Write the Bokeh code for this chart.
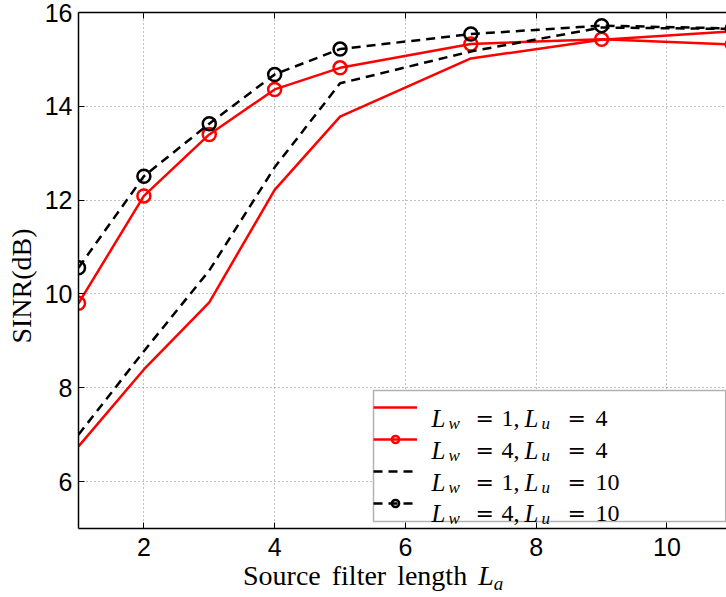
from bokeh.plotting import figure
from bokeh.layouts import row, column
from bokeh.models import (Range1d, LinearAxis, FixedTicker, Legend, LegendItem, Label,
                          BoxAnnotation, Div)
from bokeh.embed import file_html
from bokeh.resources import INLINE

# ---- data ----
x_len = [1, 2, 3, 4, 5, 7, 9, 11]
sinr_w1_u4 = [6.75, 8.39, 9.82, 12.22, 13.78, 15.02, 15.42, 15.60]
sinr_w4_u4 = [9.80, 12.09, 13.40, 14.36, 14.82, 15.33, 15.43, 15.32]
sinr_w1_u10 = [7.00, 8.78, 10.50, 12.70, 14.49, 15.17, 15.68, 15.65]
sinr_w4_u10 = [10.56, 12.51, 13.63, 14.68, 15.22, 15.54, 15.72, 15.66]
x_ticks = [2, 4, 6, 8, 10]
y_ticks = [6, 8, 10, 12, 14, 16]
legend_vals = [("1", "4"), ("4", "4"), ("1", "10"), ("4", "10")]

X0, X1 = 1, 10.91
Y0, Y1 = 5, 16
W, H = 726, 597
YDIV_W = 40                 # strip on the left holding the y-axis title
FL, FT, FB = 78, 12, 528    # frame left, top, bottom (page pixels)
PH = 565                    # figure height; the x-axis title sits below it

p = figure(width=W - YDIV_W, height=PH, x_range=Range1d(X0, X1),
           y_range=Range1d(Y0, Y1), output_backend="svg", toolbar_location=None,
           min_border_left=FL - YDIV_W, min_border_right=0, min_border_top=FT,
           min_border_bottom=PH - FB, x_axis_location=None, y_axis_location=None,
           margin=0)
p.outline_line_color = None
p.background_fill_color = "white"
p.border_fill_color = "white"

def style_axis(ax):
    ax.axis_line_color = "black"
    ax.axis_line_width = 1.5
    ax.major_tick_in = 6
    ax.major_tick_out = 0
    ax.major_tick_line_color = "black"
    ax.minor_tick_line_color = None
    ax.major_label_text_font = "Liberation Sans"
    ax.major_label_text_font_size = "25px"
    ax.major_label_text_color = "black"

xa = LinearAxis(ticker=FixedTicker(ticks=x_ticks))
style_axis(xa)
xa.major_label_standoff = 9
p.add_layout(xa, "below")
ya = LinearAxis(ticker=FixedTicker(ticks=y_ticks))
style_axis(ya)
ya.major_label_standoff = 6
p.add_layout(ya, "left")
ta = LinearAxis(ticker=FixedTicker(ticks=x_ticks))
style_axis(ta)
ta.major_label_overrides = {t: "" for t in x_ticks}
ta.major_label_text_font_size = "1px"
ta.major_label_standoff = 0
p.add_layout(ta, "above")

p.xgrid.ticker = FixedTicker(ticks=x_ticks)
p.ygrid.ticker = FixedTicker(ticks=y_ticks)
for g in (p.xgrid, p.ygrid):
    g.grid_line_color = "#808080"
    g.grid_line_dash = "1 3"
    g.grid_line_width = 1

RED = "#ff0000"
r1 = p.line(x_len, sinr_w1_u4, line_color=RED, line_width=2.5)
r2 = p.line(x_len, sinr_w4_u4, line_color=RED, line_width=2.5)
r2m = p.scatter(x_len, sinr_w4_u4, marker="circle", size=13, line_color=RED,
                line_width=2.5, fill_color=None)
r3 = p.line(x_len, sinr_w1_u10, line_color="black", line_width=2.5, line_dash="9 6")
r4 = p.line(x_len, sinr_w4_u10, line_color="black", line_width=2.5, line_dash="9 6")
r4m = p.scatter(x_len, sinr_w4_u10, marker="circle", size=13, line_color="black",
                line_width=2.5, fill_color=None)

def dx(px):
    return X0 + (px - FL) * (X1 - X0) / (W - FL)

def dy(py):
    return Y1 - (py - FT) * (Y1 - Y0) / (FB - FT)

# legend frame (white box) behind the legend samples and texts
p.add_layout(BoxAnnotation(left=dx(373), right=dx(725.2), top=dy(390), bottom=dy(521),
                           fill_color="white", fill_alpha=1, line_color="black",
                           line_width=1.5))

leg = Legend(items=[LegendItem(label="", renderers=[r1]),
                    LegendItem(label="", renderers=[r2, r2m]),
                    LegendItem(label="", renderers=[r3]),
                    LegendItem(label="", renderers=[r4, r4m])],
             location=(373 - FL, FB - 521 + 9), padding=9, spacing=14,
             glyph_width=44, glyph_height=18, label_height=18, label_width=286,
             label_standoff=5, label_text_font_size="12px", margin=0,
             border_line_color=None, background_fill_alpha=0)
p.add_layout(leg)

def add_text(txt, px, py, size, font="Liberation Serif", style="normal"):
    # px, py: page pixels from top-left; converted to frame-relative screen units
    p.add_layout(Label(x=px - FL, y=FB - py, x_units="screen", y_units="screen",
                       text=txt, text_font=font, text_font_size=f"{size}px",
                       text_font_style=style, text_align="left",
                       text_baseline="alphabetic", text_color="black"))

row_centers = [408, 440, 472, 503]
for (lw, lu), c in zip(legend_vals, row_centers):
    base = c + 10
    sub = c + 15
    add_text("L", 431, base, 25, style="italic")
    add_text("w", 448, sub, 17, style="italic")
    add_text("=", 475, base, 22, font="DejaVu Serif")
    add_text(lw + ",", 501, base, 24)
    add_text("L", 524, base, 25, style="italic")
    add_text("u", 541, sub, 17, style="italic")
    add_text("=", 567, base, 22, font="DejaVu Serif")
    add_text(lu, 595, base, 24)

# axis titles as HTML text around the figure
xdiv = Div(width=W - YDIV_W, height=H - PH, margin=0,
           text=('<div style="padding-left:%dpx; font-family:\'Liberation Serif\'; '
                 'font-size:28px; line-height:22px; white-space:nowrap; '
                 'word-spacing:4px; color:black">'
                 'Source filter length <i>L</i><span style="font-size:19px; '
                 'font-style:italic; position:relative; top:5px">a</span></div>')
                % (243 - YDIV_W))
ydiv = Div(width=YDIV_W, height=H, margin=0,
           text=('<div style="position:relative; width:%dpx; height:%dpx">'
                 '<div style="position:absolute; left:22px; top:286px; '
                 'transform:translate(-50%%,-50%%) rotate(-90deg); white-space:nowrap; '
                 'font-family:\'Liberation Serif\'; font-size:28px; line-height:30px; '
                 'color:black">SINR(dB)</div></div>') % (YDIV_W, H))

layout = row(ydiv, column(p, xdiv, spacing=0, margin=0), spacing=0, margin=0)

open("out.html", "w").write(file_html(layout, INLINE))
